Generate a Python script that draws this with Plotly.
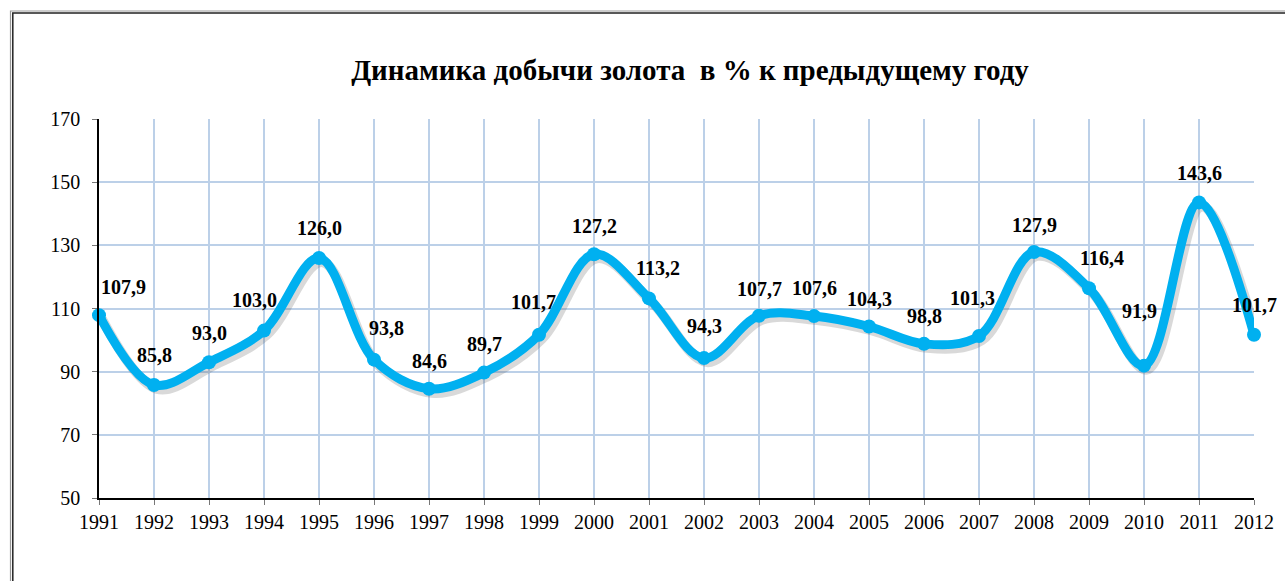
import plotly.graph_objects as go

years = list(range(1991, 2013))
values = [107.9, 85.8, 93.0, 103.0, 126.0, 93.8, 84.6, 89.7, 101.7, 127.2, 113.2,
          94.3, 107.7, 107.6, 104.3, 98.8, 101.3, 127.9, 116.4, 91.9, 143.6, 101.7]
labels = [f"{v:.1f}".replace(".", ",") for v in values]
# label offsets in pixels (x, y) relative to each point
label_dx = [24, 0, 0, -10, 0, 12, 0, 0, -6, 0, 9, 0, 0, 0, 0, 0, -7, 0, 13, -5, 0, 0]
label_dy = [28, 30, 29, 31, 30, 32, 28, 29, 33, 28, 30, 32, 27, 28, 28, 28, 38, 27, 30, 55, 29, 30]

title_text = "Динамика добычи золота  в % к предыдущему году"

W, H = 1285, 581
L, R, T, B = 99, 31, 119, 83
pw, ph = W - L - R, H - T - B

LINE = "#00B0F0"
GRID = "#BCD0E8"
SERIF = "Liberation Serif, Times New Roman, serif"

fig = go.Figure()

# invisible trace keeping the main x/y subplot (axes, grid) alive
fig.add_trace(go.Scatter(
    x=years, y=values, mode="lines", line=dict(width=0, color="rgba(0,0,0,0)"),
    hoverinfo="skip", showlegend=False,
))

# shadow (same data, slightly shifted overlay axes)
sx = 3 / pw * 21
sy = 4 / ph * 120
fig.add_trace(go.Scatter(
    x=years, y=values, mode="lines", xaxis="x2", yaxis="y2",
    line=dict(color="rgba(80,80,80,0.22)", width=10, shape="spline", smoothing=1.0),
    hoverinfo="skip", showlegend=False,
))

fig.add_trace(go.Scatter(
    x=years, y=values, mode="lines+markers", xaxis="x3", yaxis="y3",
    line=dict(color=LINE, width=9, shape="spline", smoothing=1.0),
    marker=dict(size=14, color=LINE), cliponaxis=False,
    showlegend=False,
))

for x, v, t, dx, dy in zip(years, values, labels, label_dx, label_dy):
    fig.add_annotation(x=x, y=v, xref="x3", yref="y3", text=f"<b>{t}</b>", showarrow=False,
                       xshift=dx, yshift=dy,
                       font=dict(family=SERIF, size=20, color="black"))

# double frame (left and top visible)
def px2x(p):
    return (p - L) / pw
def px2y(p):
    return (H - B - p) / ph

fig.add_shape(type="rect", xref="paper", yref="paper",
              x0=px2x(10.5), x1=px2x(1400), y0=px2y(11), y1=px2y(700),
              line=dict(color="#999999", width=1.2), layer="below")
fig.add_shape(type="rect", xref="paper", yref="paper",
              x0=px2x(12.8), x1=px2x(1400), y0=px2y(13), y1=px2y(700),
              line=dict(color="#222222", width=1.5), layer="below")

fig.update_layout(
    width=W, height=H,
    margin=dict(l=L, r=R, t=T, b=B),
    paper_bgcolor="white", plot_bgcolor="white",
    title=dict(text=f"<b>{title_text}</b>", x=690 / W, xref="container", xanchor="center",
               y=1 - 70 / H, yref="container", yanchor="middle",
               font=dict(family=SERIF, size=29, color="black")),
    xaxis=dict(range=[1991, 2012], tickmode="linear", tick0=1991, dtick=1,
               showgrid=True, gridcolor=GRID, gridwidth=1.5,
               showline=True, linecolor="black", linewidth=1.5,
               ticks="outside", ticklen=5, tickcolor="#777777",
               tickfont=dict(family=SERIF, size=20, color="black"),
               zeroline=False, fixedrange=True),
    yaxis=dict(range=[50, 170], tickmode="linear", tick0=50, dtick=20,
               showgrid=True, gridcolor=GRID, gridwidth=1.5,
               showline=True, linecolor="black", linewidth=1.5,
               ticks="outside", ticklen=5, tickcolor="#777777", ticklabelstandoff=8,
               tickfont=dict(family=SERIF, size=20, color="black"),
               zeroline=False, fixedrange=True),
    xaxis2=dict(range=[1991 - sx, 2012 - sx], overlaying="x", visible=False, fixedrange=True),
    yaxis2=dict(range=[50 + sy, 170 + sy], overlaying="y", visible=False, fixedrange=True),
    xaxis3=dict(range=[1991, 2012], overlaying="x", visible=False, fixedrange=True),
    yaxis3=dict(range=[50, 170], overlaying="y", visible=False, fixedrange=True),
)

fig.write_html("out.html", config={"displayModeBar": False},
               post_script="document.body.style.margin='0';document.body.style.overflow='hidden';")
